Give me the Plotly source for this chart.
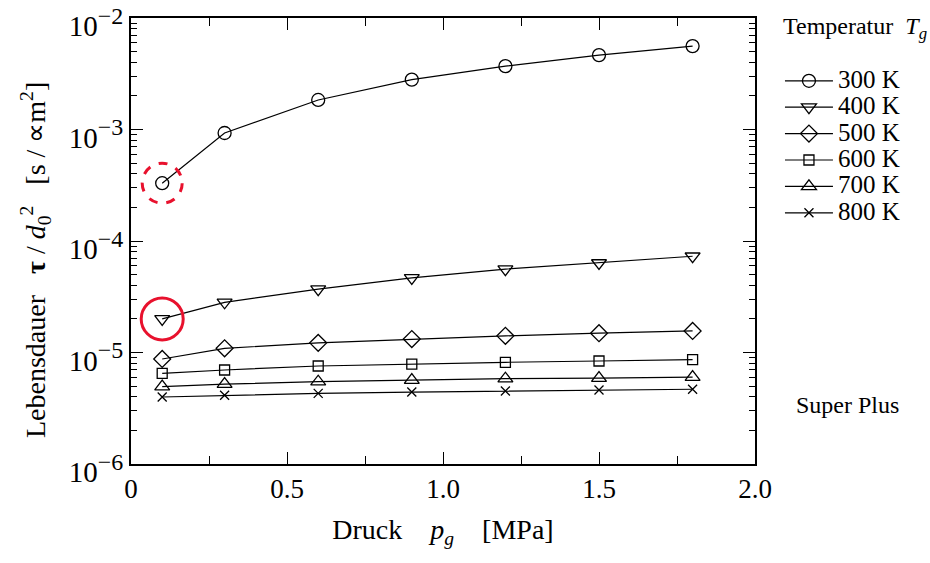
import math
import plotly.graph_objects as go

# Pressure levels (MPa) and lifetime tau/d0^2 (s/µm^2) per gas temperature
pressure = [0.1, 0.3, 0.6, 0.9, 1.2, 1.5, 1.8]
temperatures = ["300 K", "400 K", "500 K", "600 K", "700 K", "800 K"]
tau_300 = [3.3e-4, 9.3e-4, 1.84e-3, 2.8e-3, 3.7e-3, 4.65e-3, 5.6e-3]
tau_400 = [2.0e-5, 2.82e-5, 3.7e-5, 4.66e-5, 5.6e-5, 6.35e-5, 7.3e-5]
tau_500 = [8.75e-6, 1.09e-5, 1.22e-5, 1.32e-5, 1.41e-5, 1.49e-5, 1.56e-5]
tau_600 = [6.5e-6, 6.97e-6, 7.57e-6, 7.88e-6, 8.17e-6, 8.39e-6, 8.62e-6]
tau_700 = [4.94e-6, 5.2e-6, 5.47e-6, 5.66e-6, 5.82e-6, 5.9e-6, 6.02e-6]
tau_800 = [3.99e-6, 4.13e-6, 4.3e-6, 4.42e-6, 4.52e-6, 4.61e-6, 4.68e-6]
series = [tau_300, tau_400, tau_500, tau_600, tau_700, tau_800]

x_tickvals = [0, 0.5, 1.0, 1.5, 2.0]
x_ticktext = ["0", "0.5", "1.0", "1.5", "2.0"]
y_exponents = [-6, -5, -4, -3, -2]
Y_LOG_RANGE = [-6, -2]

symbols = ["circle-open", "triangle-down-open", "diamond-open",
           "square-open", "triangle-up-open", "x-thin-open"]
sizes = [13, 13, 13, 10, 13, 9]

FONT = "Liberation Serif"

# plot area in pixels (left, right, top, bottom)
PL, PR, PT, PB = 131, 755, 18, 464


def px_x(px):
    return (px - PL) / (PR - PL)


def px_y(px):
    return (PB - px) / (PB - PT)


fig = go.Figure()
for name, vals, sym, sz in zip(temperatures, series, symbols, sizes):
    fig.add_trace(go.Scatter(
        x=pressure, y=vals, mode="lines+markers",
        name=f'<span style="font-size:25px">{name}</span>',
        line=dict(color="black", width=1.2),
        marker=dict(symbol=sym, size=sz, color="black",
                    line=dict(color="black", width=1.3)),
    ))


def y_paper(v):
    """Position of a data value on the log y axis as a fraction of the plot height."""
    return (math.log10(v) - Y_LOG_RANGE[0]) / (Y_LOG_RANGE[1] - Y_LOG_RANGE[0])


# red highlight rings around the first points of 300 K and 400 K
fig.add_shape(type="circle", xref="x", yref="paper",
              xsizemode="pixel", ysizemode="pixel",
              xanchor=pressure[0], yanchor=y_paper(tau_300[0]),
              x0=-20, x1=20, y0=-20, y1=20,
              line=dict(color="#e8112d", width=3, dash="dash"))
fig.add_shape(type="circle", xref="x", yref="paper",
              xsizemode="pixel", ysizemode="pixel",
              xanchor=pressure[0], yanchor=y_paper(tau_400[0]),
              x0=-21, x1=21, y0=-21, y1=21,
              line=dict(color="#e8112d", width=3))

minor_y = [k * 10.0 ** n for n in range(-6, -2) for k in range(2, 10)]

fig.update_xaxes(
    range=[0, 2], tickvals=x_tickvals, ticktext=x_ticktext,
    ticks="inside", ticklen=12, tickwidth=1.3, tickcolor="black",
    showline=True, linewidth=2, linecolor="black", mirror="allticks",
    showgrid=False, zeroline=False, automargin=False,
    minor=dict(dtick=0.25, ticks="inside", ticklen=8, tickwidth=1.3,
               tickcolor="black", showgrid=False),
    tickfont=dict(family=FONT, size=27, color="black"),
    title=dict(text="Druck    <i>p<sub>g</sub></i>    [MPa]",
               font=dict(family=FONT, size=28, color="black"), standoff=16),
)
fig.update_yaxes(
    type="log", range=Y_LOG_RANGE,
    tickvals=[10.0 ** e for e in y_exponents],
    ticktext=[f'10<sup><span style="font-size:24px">\u2212{-e}</span></sup>' for e in y_exponents],
    ticks="inside", ticklen=12, tickwidth=1.3, tickcolor="black",
    showline=True, linewidth=2, linecolor="black", mirror="allticks",
    showgrid=False, zeroline=False, ticklabeloverflow="allow", automargin=False,
    ticklabelshift=8,
    minor=dict(tickvals=minor_y, ticks="inside", ticklen=6, tickwidth=1.3,
               tickcolor="black", showgrid=False),
    tickfont=dict(family=FONT, size=29, color="black"),
)

# vertical axis caption
fig.add_annotation(
    text="Lebensdauer   <b>\u03c4</b> / <i>d</i><sub>0</sub><sup>2</sup>   [s / \u221dm<sup>2</sup>]",
    xref="paper", yref="paper", x=px_x(35), y=px_y(260),
    xanchor="center", yanchor="middle", textangle=-90, showarrow=False,
    font=dict(family=FONT, size=28, color="black"))

fig.add_annotation(text="Temperatur  <i>T<sub>g</sub></i>", xref="paper", yref="paper",
                   x=px_x(781), y=px_y(28), xanchor="left", yanchor="middle",
                   showarrow=False, font=dict(family=FONT, size=24, color="black"))
fig.add_annotation(text="Super Plus", xref="paper", yref="paper",
                   x=px_x(847), y=px_y(405), xanchor="center", yanchor="middle",
                   showarrow=False, font=dict(family=FONT, size=24, color="black"))

fig.update_layout(
    width=930, height=563,
    margin=dict(l=PL, r=930 - PR, t=PT, b=563 - PB),
    paper_bgcolor="white", plot_bgcolor="white",
    font=dict(family=FONT, color="black"),
    legend=dict(x=1.04, y=0.9, xanchor="left", yanchor="top",
                font=dict(family=FONT, size=18, color="black"),
                bgcolor="rgba(0,0,0,0)", itemwidth=48),
)

fig.write_html("out.html")
